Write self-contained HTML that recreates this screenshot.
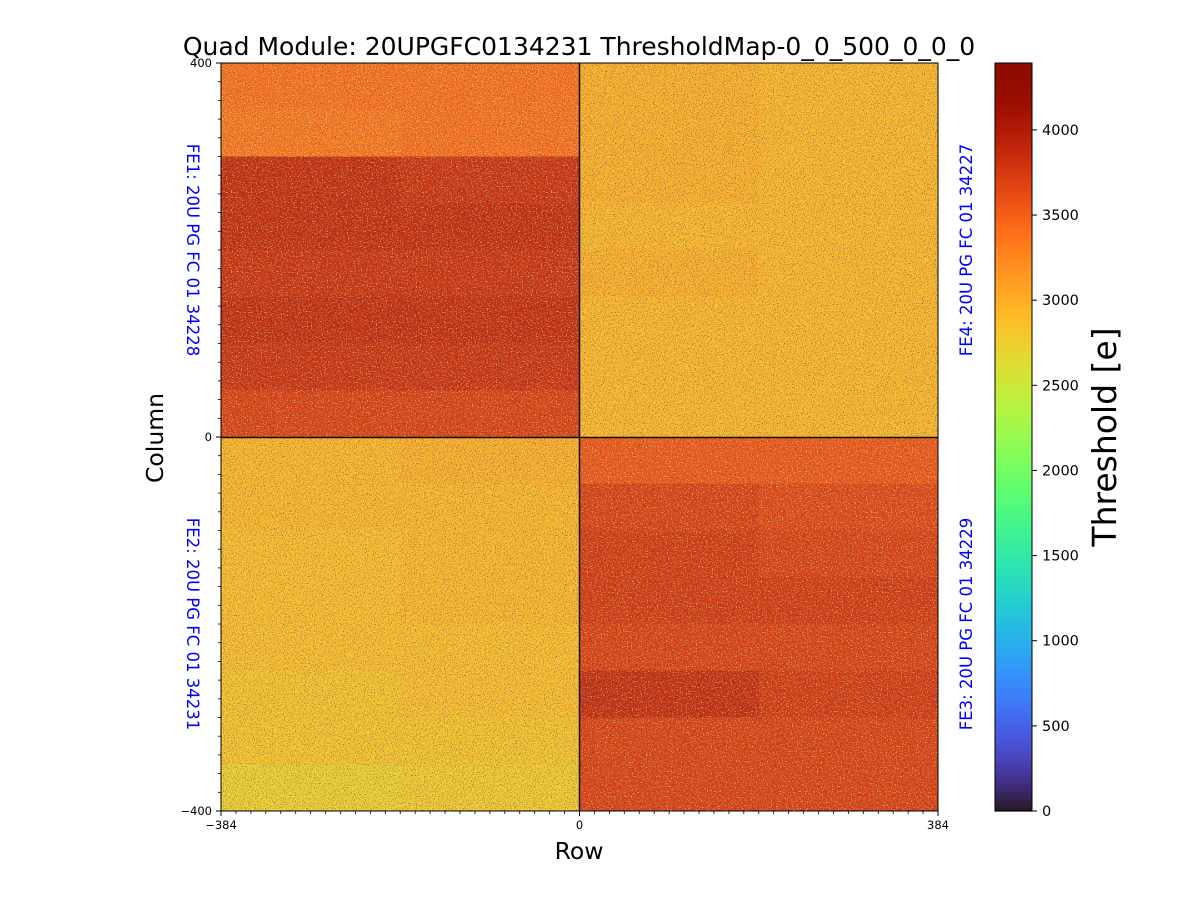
<!DOCTYPE html>
<html><head><meta charset="utf-8">
<style>
html,body{margin:0;padding:0;background:#fff;}
svg{display:block;font-family:"DejaVu Sans","Liberation Sans",sans-serif;}
</style></head>
<body>
<svg id="chart" width="1200" height="900" viewBox="0 0 1200 900">
<defs>
<filter id="speckle" x="0" y="0" width="100%" height="100%">
<feTurbulence type="fractalNoise" baseFrequency="0.9" numOctaves="1" seed="3" result="n"/>
<feColorMatrix in="n" type="matrix" values="0 0 0 0 0.1  0 0 0 0 0.05  0 0 0 0 0.2  3 0 0 0 -1.55"/>
</filter>
<filter id="speckle2" x="0" y="0" width="100%" height="100%">
<feTurbulence type="fractalNoise" baseFrequency="0.8" numOctaves="1" seed="11" result="n"/>
<feColorMatrix in="n" type="matrix" values="0 0 0 0 0.75  0 0 0 0 0.9  0 0 0 0 0.2  3 0 0 0 -1.6"/>
</filter>
</defs>
<text x="579" y="55" font-size="25" text-anchor="middle">Quad Module: 20UPGFC0134231 ThresholdMap-0_0_500_0_0_0</text>
<g id="heat"></g>
<rect x="221" y="63" width="717" height="748" filter="url(#speckle)"/>
<rect x="221" y="63" width="717" height="748" filter="url(#speckle2)"/>
<line x1="579.5" y1="63" x2="579.5" y2="811" stroke="#111" stroke-width="1.5"/>
<line x1="221" y1="437.5" x2="938" y2="437.5" stroke="#111" stroke-width="1.5"/>
<rect x="221" y="63" width="717" height="748" fill="none" stroke="#000" stroke-width="1"/>
<g id="axes"></g>
<text x="0" y="0" transform="translate(163,438) rotate(-90)" font-size="23.5" text-anchor="middle">Column</text>
<text x="579" y="859" font-size="23.5" text-anchor="middle">Row</text>
<g fill="#0000ff" font-size="16.5">
<text transform="translate(187,250) rotate(90)" text-anchor="middle">FE1: 20U PG FC 01 34228</text>
<text transform="translate(187,624) rotate(90)" text-anchor="middle">FE2: 20U PG FC 01 34231</text>
<text transform="translate(972,250) rotate(-90)" text-anchor="middle">FE4: 20U PG FC 01 34227</text>
<text transform="translate(972,624) rotate(-90)" text-anchor="middle">FE3: 20U PG FC 01 34229</text>
</g>
<g id="cbar"></g>
<text transform="translate(1116,437) rotate(-90)" font-size="33" text-anchor="middle">Threshold [e]</text>
</svg>
<script>
const rowEdges = [400,350,300,250,200,150,100,50,0,-50,-100,-150,-200,-250,-300,-350,-400];
const colEdges = [-384,-192,0,192,384];
const leftTop  = [[3400,3400],[3350,3400],[3850,3800],[3850,3850],[3800,3800],[3850,3850],[3800,3800],[3700,3700]];
const rightTop = [[3000,2950],[3000,2950],[3000,2950],[2950,2950],[3000,2950],[2950,2950],[2950,2950],[2950,2950]];
const leftBot  = [[2950,3000],[2950,2950],[2900,2950],[2900,2950],[2900,2900],[2850,2900],[2850,2850],[2750,2800]];
const rightBot = [[3550,3550],[3700,3650],[3750,3700],[3750,3750],[3700,3700],[3850,3750],[3700,3700],[3700,3700]];
const cbarTicks = [0,500,1000,1500,2000,2500,3000,3500,4000];
const vmax = 4393;

const NS="http://www.w3.org/2000/svg";
const X0=221,X1=938,Y0=63,Y1=811;
const xs=v=>X0+(v+384)/768*(X1-X0);
const ys=v=>Y0+(400-v)/800*(Y1-Y0);
function turbo(t){t=Math.max(0,Math.min(1,t));
 const r=0.13572138+t*(4.61539260+t*(-42.66032258+t*(132.13108234+t*(-152.94239396+t*59.28637943))));
 const g=0.09140261+t*(2.19418839+t*(4.84296658+t*(-14.18503333+t*(4.27729857+t*2.82956604))));
 const b=0.10667330+t*(12.64194608+t*(-60.58204836+t*(110.36276771+t*(-89.90310912+t*27.34824973))));
 const c=x=>Math.round(255*Math.max(0,Math.min(1,x)));
 return `rgb(${c(r)},${c(g)},${c(b)})`;}
function el(tag,attrs,parent){const e=document.createElementNS(NS,tag);for(const k in attrs)e.setAttribute(k,attrs[k]);parent.appendChild(e);return e;}

const heat=document.getElementById('heat');
for(let i=0;i<16;i++){
 for(let j=0;j<4;j++){
  let v;
  if(i<8){v= j<2? leftTop[i][j] : rightTop[i][j-2];}
  else{v= j<2? leftBot[i-8][j] : rightBot[i-8][j-2];}
  const x=xs(colEdges[j]),y=ys(rowEdges[i]);
  const r=el('rect',{x:x,y:y,width:xs(colEdges[j+1])-x+0.5,height:ys(rowEdges[i+1])-y+0.5,fill:turbo(v/vmax)},heat);
  
  
 }
}
const ax=document.getElementById('axes');
const xt=[-384,0,384], yt=[400,0,-400];
xt.forEach(v=>{const x=xs(v);
 el('line',{x1:x,y1:Y1,x2:x,y2:Y1+5,stroke:'#000'},ax);
 const t=el('text',{x:x,y:Y1+18,'font-size':11.5,'text-anchor':'middle'},ax);t.textContent=v<0?'\u2212'+(-v):v;
 
 });
yt.forEach(v=>{const y=ys(v);
 el('line',{x1:X0,y1:y,x2:X0-5,y2:y,stroke:'#000'},ax);
 const t=el('text',{x:X0-9,y:y+4,'font-size':11.5,'text-anchor':'end'},ax);t.textContent=v<0?'\u2212'+(-v):v;
 
 });
for(let v=-384;v<=384;v+=16){el('line',{x1:xs(v),y1:Y1,x2:xs(v),y2:Y1+3,stroke:'#000','stroke-width':0.8},ax);}
for(let v=-400;v<=400;v+=20){el('line',{x1:X0,y1:ys(v),x2:X0-3,y2:ys(v),stroke:'#000','stroke-width':0.8},ax);}
const cb=document.getElementById('cbar');
const CX=995,CW=37;
for(let k=0;k<200;k++){const ya=Y1-(k+1)*(Y1-Y0)/200;
 el('rect',{x:CX,y:ya,width:CW,height:(Y1-Y0)/200+0.6,fill:turbo((k+0.5)/200)},cb);}
el('rect',{x:CX,y:Y0,width:CW,height:Y1-Y0,fill:'none',stroke:'#000','stroke-width':1},cb);
cbarTicks.forEach(v=>{const y=Y1-v/vmax*(Y1-Y0);
 el('line',{x1:CX+CW,y1:y,x2:CX+CW+5,y2:y,stroke:'#000'},cb);
 const t=el('text',{x:CX+CW+10,y:y+5,'font-size':14.5},cb);t.textContent=v;
 
 });
</script>
</body></html>
